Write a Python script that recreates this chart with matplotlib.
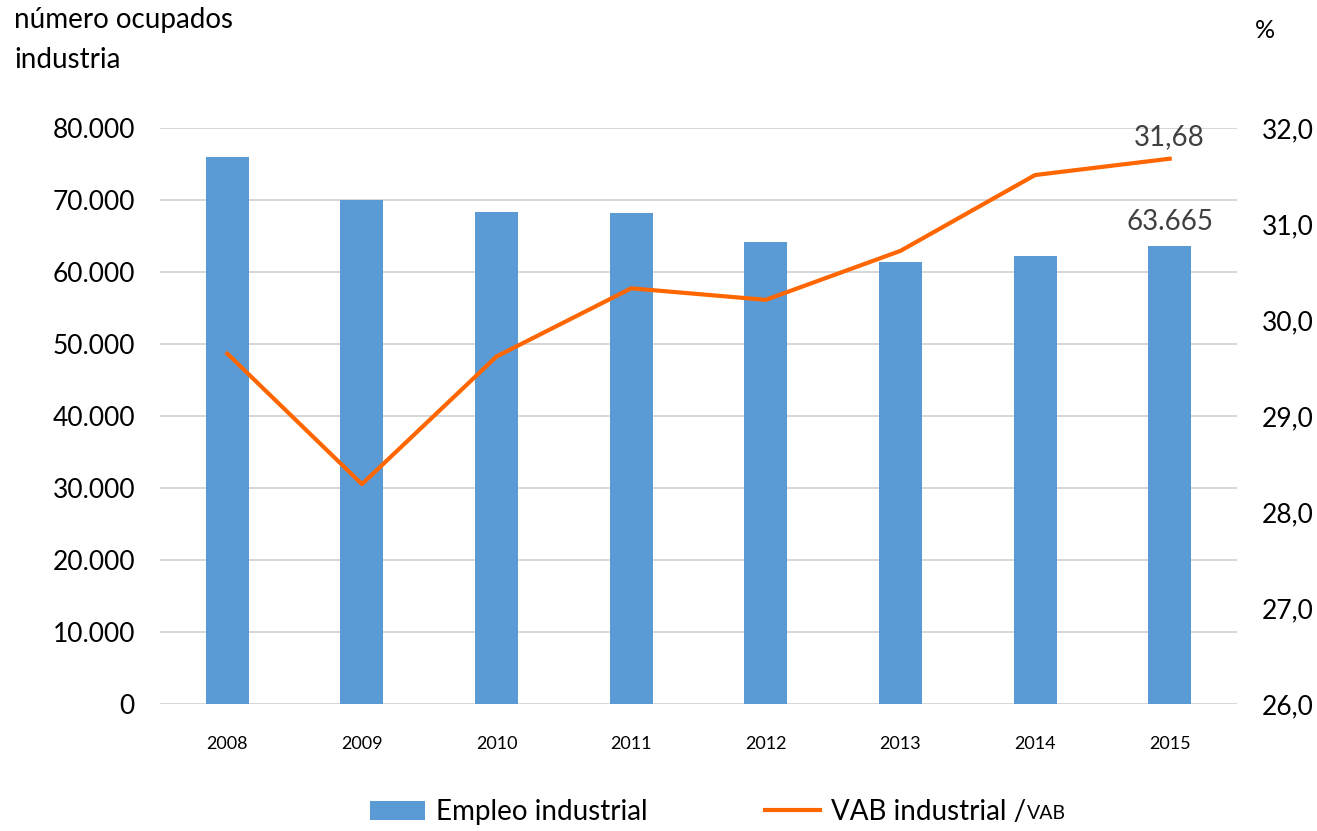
import numpy as np
from matplotlib import pyplot as plt

years = ["2008", "2009", "2010", "2011", "2012", "2013", "2014", "2015"]
empleo = [75950, 70050, 68300, 68200, 64150, 61400, 62200, 63665]
vab_pct = [29.65, 28.29, 29.62, 30.33, 30.21, 30.72, 31.51, 31.68]

plt.rcParams['font.family'] = ['Lato', 'DejaVu Sans']

fig = plt.figure(figsize=(13.17, 8.31), dpi=100)
ax = fig.add_axes([160 / 1317, 1 - 704 / 831, 1077 / 1317, 576 / 831])
ax2 = ax.twinx()

x = np.arange(len(years))
bars = ax.bar(x, empleo, width=0.32, color="#5B9BD5", label="Empleo industrial", zorder=2)
line, = ax2.plot(x, vab_pct, color="#FF6600", lw=3, label="VAB industrial /VAB", zorder=3)

ax.set_ylim(0, 80000)
ax.set_yticks(np.arange(0, 80001, 10000))
ax.set_yticklabels([f"{v:,}".replace(",", ".") for v in range(0, 80001, 10000)])
ax2.set_ylim(26, 32)
ax2.set_yticks(np.arange(26, 32.01, 1))
ax2.set_yticklabels([f"{v:.1f}".replace(".", ",") for v in np.arange(26, 32.01, 1)])
ax.set_xlim(-0.5, len(years) - 0.5)
ax.set_xticks(x)
ax.set_xticklabels(years)

ax.grid(axis="y", color="#D0D0D0", lw=1.2, zorder=0)
ax.set_axisbelow(True)
for a in (ax, ax2):
    for s in a.spines.values():
        s.set_visible(False)
    a.tick_params(length=0)
ax.tick_params(axis="y", labelsize=19, pad=18)
ax.tick_params(axis="x", labelsize=13, pad=23)
ax2.tick_params(axis="y", labelsize=19, pad=18)

ax.annotate(f"{empleo[-1]:,}".replace(",", "."), (x[-1], empleo[-1]), xytext=(0, 8),
            textcoords="offset points", ha="center", va="bottom", fontsize=20, color="#404040")
ax2.annotate(f"{vab_pct[-1]:.2f}".replace(".", ","), (x[-1], vab_pct[-1]), xytext=(0, 6),
             textcoords="offset points", ha="center", va="bottom", fontsize=20, color="#404040")

fig.text(14 / 1317, 1 - 40 / 831, "número ocupados\nindustria", fontsize=20, va="center",
         ha="left", linespacing=1.65)
fig.text(1265 / 1317, 1 - 30 / 831, "%", fontsize=18, va="center", ha="center")

leg = fig.legend([bars, line], ["Empleo industrial", "VAB industrial /"],
                 loc="center", bbox_to_anchor=(0.53, 1 - 812 / 831), ncol=2, frameon=False,
                 fontsize=20, handlelength=2.0, handletextpad=0.4, columnspacing=4.2)

# small "VAB" after the slash, on the same baseline
fig.canvas.draw()
t = leg.get_texts()[1]
bb = t.get_window_extent(fig.canvas.get_renderer())
inv = fig.transFigure.inverted()
x0, y0 = inv.transform((bb.x1 + 1, bb.y0 + bb.height * 0.22))
fig.text(x0, y0, "VAB", fontsize=14, ha="left", va="baseline")

fig.savefig("out.png", dpi=100)
